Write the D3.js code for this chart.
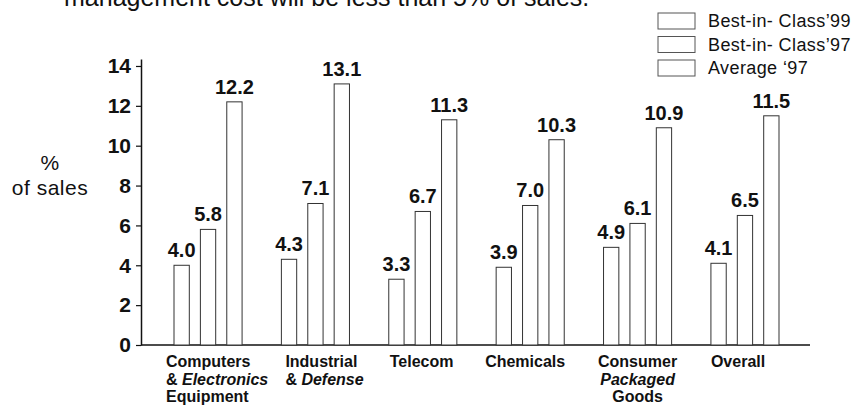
<!DOCTYPE html>
<html>
<head>
<meta charset="utf-8">
<script src="https://cdn.jsdelivr.net/npm/d3@7"></script>
<style>
  body { margin: 0; background: #fff; }
  svg { display: block; font-family: "Liberation Sans", Arial, Helvetica, sans-serif; }
</style>
</head>
<body>
<div id="chart"></div>
<script>
// Data
const categories = ["Computers & Electronics Equipment", "Industrial & Defense", "Telecom", "Chemicals", "Consumer Packaged Goods", "Overall"];
// label lines, _word_ = italic
const categoryLines = [
  ["Computers", "& _Electronics_", "Equipment"],
  ["Industrial", "& _Defense_"],
  ["Telecom"],
  ["Chemicals"],
  ["Consumer", "_Packaged_", "Goods"],
  ["Overall"]
];
const seriesNames = ["Best-in- Class’99", "Best-in- Class’97", "Average ‘97"];
const bestInClass99 = [4.0, 4.3, 3.3, 3.9, 4.9, 4.1];
const bestInClass97 = [5.8, 7.1, 6.7, 7.0, 6.1, 6.5];
const average97 = [12.2, 13.1, 11.3, 10.3, 10.9, 11.5];
const yTicks = [0, 2, 4, 6, 8, 10, 12, 14];

const seriesValues = [bestInClass99, bestInClass97, average97];

// Dimensions
const dims = {width: 859, height: 411};
const axisX = 141, axisRight = 810;
const plotTop = 59, plotBottom = 345;

// label alignment per category
const labelAnchor = ["start", "start", "start", "start", "middle", "start"];
const labelShift = [-8, 4, 1, -11, 0, 0];

const svg = d3.select('#chart')
  .append('svg')
  .attr('width', dims.width)
  .attr('height', dims.height);

// Scales
const y = d3.scaleLinear()
  .domain([0, 14.35])
  .range([plotBottom, plotTop]);

const x0 = d3.scaleBand()
  .domain(categories)
  .range([174, 779])
  .paddingInner(0.366)
  .paddingOuter(0);

const x1 = d3.scaleBand()
  .domain(seriesNames)
  .range([0, x0.bandwidth()])
  .paddingInner(0.42);

// Title (cut off at top of picture, as in the source)
svg.append('text')
  .attr('x', 64)
  .attr('y', 6)
  .attr('font-size', 25)
  .attr('fill', '#111')
  .text('management cost will be less than 5% of sales.');

// Y axis
const yAxis = d3.axisLeft(y)
  .tickValues(yTicks)
  .tickSize(5)
  .tickSizeOuter(0)
  .tickPadding(5)
  .tickFormat(d3.format('d'));

const yAxisG = svg.append('g')
  .attr('transform', `translate(${axisX},0)`)
  .call(yAxis);
yAxisG.select('.domain').attr('stroke', '#111').attr('stroke-width', 1.5);
yAxisG.selectAll('.tick line').attr('stroke', '#111').attr('stroke-width', 1.2);
yAxisG.selectAll('.tick text')
  .attr('font-family', '"Liberation Sans", Arial, sans-serif')
  .attr('font-size', 21)
  .attr('font-weight', 'bold')
  .attr('fill', '#111');

// X baseline
svg.append('line')
  .attr('x1', axisX).attr('x2', axisRight)
  .attr('y1', y(0)).attr('y2', y(0))
  .attr('stroke', '#111')
  .attr('stroke-width', 1.5);

// Y title
const yTitle = svg.append('text')
  .attr('text-anchor', 'middle')
  .attr('font-size', 21)
  .attr('letter-spacing', 0.5)
  .attr('fill', '#111');
yTitle.append('tspan').attr('x', 50).attr('y', 170).text('%');
yTitle.append('tspan').attr('x', 50).attr('y', 195).text('of sales');

// Groups
const groups = svg.append('g').attr('class', 'bars')
  .selectAll('g')
  .data(categories)
  .join('g')
  .attr('transform', d => `translate(${x0(d)},0)`);

const barData = (c, i) => seriesNames.map((s, j) => ({series: s, value: seriesValues[j][i]}));

groups.selectAll('rect')
  .data(barData)
  .join('rect')
  .attr('x', d => x1(d.series))
  .attr('y', d => y(d.value))
  .attr('width', x1.bandwidth())
  .attr('height', d => y(0) - y(d.value))
  .attr('fill', '#fff')
  .attr('stroke', '#333')
  .attr('stroke-width', 1);

groups.selectAll('text.value')
  .data(barData)
  .join('text')
  .attr('class', 'value')
  .attr('x', d => x1(d.series) + x1.bandwidth() / 2)
  .attr('y', d => y(d.value) - 8)
  .attr('text-anchor', 'middle')
  .attr('font-size', 20)
  .attr('font-weight', 'bold')
  .attr('fill', '#111')
  .text(d => d3.format('.1f')(d.value));

// Category labels
categories.forEach((c, i) => {
  const anchor = labelAnchor[i];
  const lx = (anchor === 'middle' ? x0(c) + x0.bandwidth() / 2 : x0(c)) + labelShift[i];
  const t = svg.append('text')
    .attr('text-anchor', anchor)
    .attr('font-size', 16)
    .attr('font-weight', 'bold')
    .attr('fill', '#111');
  categoryLines[i].forEach((line, k) => {
    const tl = t.append('tspan').attr('x', lx).attr('y', 367 + k * 17.5);
    line.split(/(_[^_]+_)/).filter(p => p.length).forEach(p => {
      const it = p.startsWith('_');
      tl.append('tspan')
        .attr('font-style', it ? 'italic' : 'normal')
        .text(it ? p.slice(1, -1) : p);
    });
  });
});

// Legend
const legend = svg.append('g')
  .attr('class', 'legend')
  .attr('transform', 'translate(658, 13)');

const legendRow = legend.selectAll('g')
  .data(seriesNames)
  .join('g')
  .attr('transform', (d, i) => `translate(0, ${i * 23.5})`);

legendRow.append('rect')
  .attr('width', 37)
  .attr('height', 16)
  .attr('fill', '#fff')
  .attr('stroke', '#555')
  .attr('stroke-width', 1);

legendRow.append('text')
  .attr('x', 50)
  .attr('y', 14)
  .attr('font-size', 18)
  .attr('letter-spacing', 0.4)
  .attr('fill', '#111')
  .text(d => d);
</script>
</body>
</html>
